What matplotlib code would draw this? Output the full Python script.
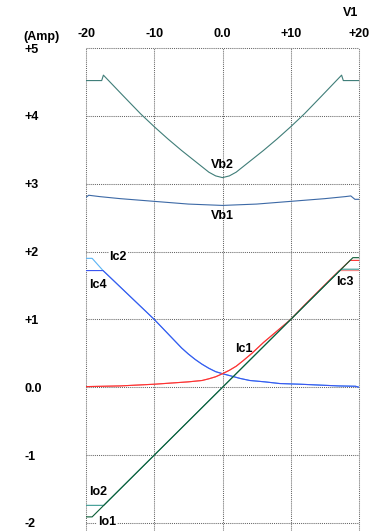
import matplotlib
matplotlib.use("Agg")
import matplotlib.pyplot as plt

plt.rcParams['font.family'] = ['Liberation Sans', 'DejaVu Sans']
fs = 9

# sweep voltage V1 (x) and currents (Amp)
vb2_v = [-20, -17.7, -17.45, -14.5, -12, -10, -8, -6, -4, -3, -2, -1, 0, 1, 2, 3, 4, 6, 8, 10, 12, 14.5, 17.45, 17.7, 20]
vb2_a = [4.52, 4.52, 4.6, 4.29, 4.03, 3.84, 3.66, 3.49, 3.33, 3.25, 3.17, 3.115, 3.09, 3.115, 3.17, 3.25, 3.33, 3.49, 3.66, 3.84, 4.03, 4.29, 4.6, 4.52, 4.52]

vb1_v = [-20, -19.6, -18, -15, -10, -5, 0, 5, 10, 15, 18, 18.8, 19.4, 20]
vb1_a = [2.8, 2.83, 2.81, 2.78, 2.74, 2.70, 2.68, 2.70, 2.74, 2.78, 2.81, 2.82, 2.77, 2.77]

ic4_v = [-20, -17.5, -15, -12.5, -10, -8, -6, -5, -4, -3, -2, -1, 0, 1.5, 2.6, 4, 6.2, 8.4, 11.4, 17, 19.5, 20]
ic4_a = [1.72, 1.72, 1.48, 1.24, 1.0, 0.79, 0.58, 0.49, 0.41, 0.34, 0.28, 0.23, 0.2, 0.16, 0.13, 0.1, 0.08, 0.055, 0.045, 0.02, 0.015, 0.0]

ic2_v = [-20, -19.1, -17.5, -15, -12.5, -10, -8, -6, -5, -4, -3, -2, -1, 0, 1.5, 2.6, 4, 6.2, 8.4, 11.4, 17, 19.5, 20]
ic2_a = [1.9, 1.9, 1.72, 1.48, 1.24, 1.0, 0.79, 0.58, 0.49, 0.41, 0.34, 0.28, 0.23, 0.2, 0.16, 0.13, 0.1, 0.08, 0.055, 0.045, 0.02, 0.015, 0.0]

ic1_v = [-20, -15, -10, -5, -3, -2, -1, 0, 1, 2, 3, 4.3, 6, 8, 10, 12, 14, 16, 18.7, 20]
ic1_a = [0.01, 0.02, 0.045, 0.08, 0.1, 0.125, 0.155, 0.2, 0.25, 0.31, 0.39, 0.5, 0.66, 0.83, 1.0, 1.21, 1.41, 1.61, 1.87, 1.87]

ic3_v = [-20, -15, -10, -5, -3, -2, -1, 0, 1, 2, 3, 4.3, 6, 8, 10, 12, 14, 16, 17.1, 20]
ic3_a = [0.01, 0.02, 0.045, 0.08, 0.1, 0.125, 0.155, 0.2, 0.25, 0.31, 0.39, 0.5, 0.66, 0.83, 1.0, 1.21, 1.41, 1.61, 1.72, 1.72]

io1_v = [-20, -19.1, 19.1, 20]
io1_a = [-1.91, -1.91, 1.91, 1.91]

io2_v = [-20, -17.4, 17.4, 20]
io2_a = [-1.74, -1.74, 1.74, 1.74]

xticks = [-20, -10, 0, 10, 20]
xlabels = ['-20', '-10', '0.0', '+10', '+20']
yticks = [5, 4, 3, 2, 1, 0, -1, -2]
ylabels = ['+5', '+4', '+3', '+2', '+1', '0.0', '-1', '-2']

fig = plt.figure(figsize=(3.76, 5.31), dpi=100)
ax = fig.add_axes([86 / 376, 0, 273 / 376, 483 / 531])
ax.set_xlim(-20, 20)
ax.set_ylim(-2.118, 5)
for s in ax.spines.values():
    s.set_visible(False)

for x in xticks:
    ax.axvline(x, color='#666666', lw=0.75, ls=(0, (1, 1)), clip_on=False, zorder=0)
for y in yticks:
    ax.axhline(y, color='#666666', lw=0.75, ls=(0, (1, 1)), clip_on=False, zorder=0)

lw = 0.8
ax.plot(vb2_v, vb2_a, color='#3f7d78', lw=lw)
ax.plot(vb1_v, vb1_a, color='#3c69a6', lw=lw)
ax.plot(ic2_v, ic2_a, color='#5ab4f5', lw=lw)
ax.plot(ic4_v, ic4_a, color='#3a55f0', lw=lw)
ax.plot(ic3_v, ic3_a, color='#f08a8a', lw=lw)
ax.plot(ic1_v, ic1_a, color='#ff3030', lw=lw)
ax.plot(io2_v, io2_a, color='#3a9a92', lw=lw)
ax.plot(io1_v, io1_a, color='#0a5c34', lw=lw)

ax.xaxis.set_ticks_position('top')
ax.set_xticks(xticks)
ax.set_xticklabels(xlabels, fontsize=fs, fontweight='bold')
ax.set_yticks(yticks)
ax.set_yticklabels(ylabels, fontsize=fs, fontweight='bold')
for lbl in ax.get_yticklabels():
    lbl.set_horizontalalignment('left')
ax.tick_params(axis='x', length=0, pad=6)
ax.tick_params(axis='y', length=0, pad=44.5)

fig.text(23 / 376, 1 - 37 / 531, '(Amp)', fontsize=fs, fontweight='bold', ha='left', va='center')
fig.text(351 / 376, 1 - 13 / 531, 'V1', fontsize=fs, fontweight='bold', ha='center', va='center')

labels = [('Vb2', 0, 3.28, False), ('Vb1', 0, 2.53, False), ('Ic2', -15.3, 1.92, True),
          ('Ic4', -18.2, 1.50, False), ('Ic1', 3.1, 0.57, False), ('Ic3', 17.9, 1.55, False),
          ('Io2', -18.2, -1.55, False), ('Io1', -16.9, -1.99, True)]
for t, x, y, boxed in labels:
    kw = dict(bbox=dict(facecolor='white', edgecolor='none', pad=0.5)) if boxed else {}
    ax.text(x, y, t, fontsize=fs, fontweight='bold', ha='center', va='center', **kw)

fig.savefig('out.png', dpi=100)
